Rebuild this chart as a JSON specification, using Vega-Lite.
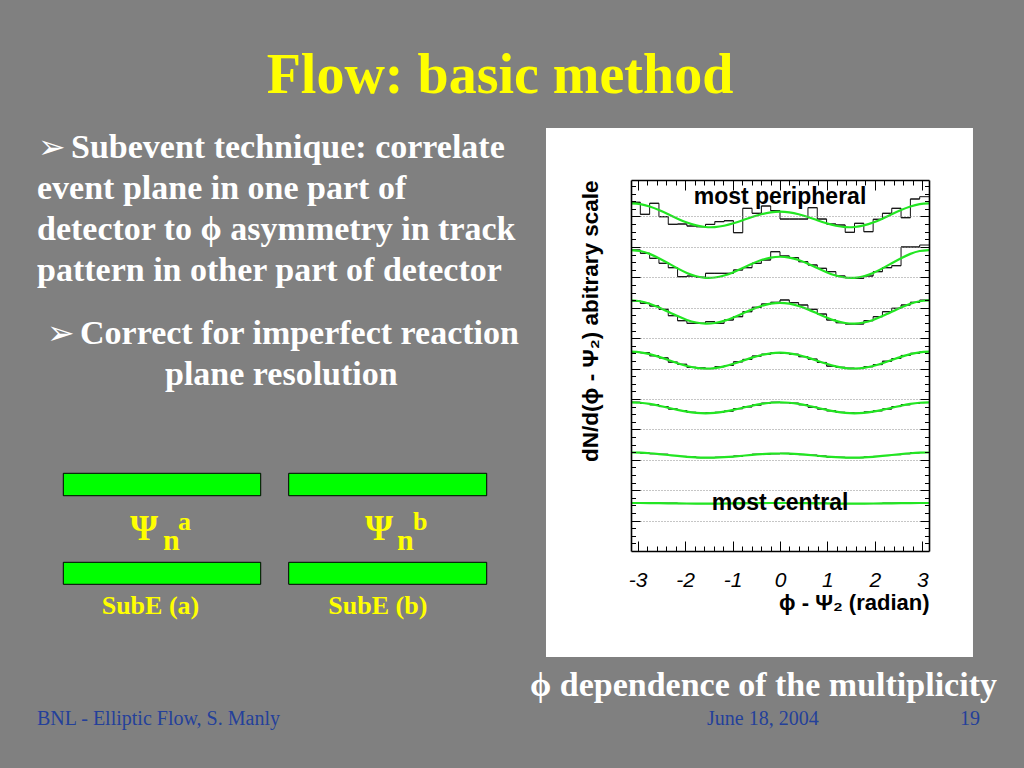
{
  "$schema": "https://vega.github.io/schema/vega-lite/v6.json",
  "width": 298,
  "height": 371,
  "autosize": {"type": "none"},
  "padding": {"left": 631, "top": 180, "right": 95, "bottom": 217},
  "background": "#808080",
  "config": {"view": {"stroke": null}},
  "datasets": {
    "panel": [{"x": -4.934, "x2": 4.069, "y": -3.486, "y2": 13.91}],
    "boxes": [
      {"x": -15.111, "x2": -10.949, "y": 2.555, "y2": 1.818},
      {"x": -10.359, "x2": -6.184, "y": 2.555, "y2": 1.818},
      {"x": -15.111, "x2": -10.949, "y": -0.372, "y2": -1.095},
      {"x": -10.359, "x2": -6.184, "y": -0.372, "y2": -1.095}
    ],
    "hist": [
      {"lo": -3.14159, "hi": -2.94524, "h1": 11.467, "h2": 9.898, "h3": 8.221, "h4": 6.53, "h5": 4.89, "h6": 3.24, "h7": 1.58},
      {"lo": -2.94524, "hi": -2.74889, "h1": 11.072, "h2": 9.79, "h3": 8.145, "h4": 6.52, "h5": 4.85, "h6": 3.22, "h7": 1.58},
      {"lo": -2.74889, "hi": -2.55254, "h1": 11.434, "h2": 9.625, "h3": 8.057, "h4": 6.42, "h5": 4.81, "h6": 3.2, "h7": 1.57},
      {"lo": -2.55254, "hi": -2.35619, "h1": 10.993, "h2": 9.461, "h3": 7.948, "h4": 6.35, "h5": 4.75, "h6": 3.18, "h7": 1.57},
      {"lo": -2.35619, "hi": -2.15984, "h1": 10.743, "h2": 9.316, "h3": 7.738, "h4": 6.21, "h5": 4.67, "h6": 3.14, "h7": 1.57},
      {"lo": -2.15984, "hi": -1.9635, "h1": 10.753, "h2": 9.02, "h3": 7.573, "h4": 6.14, "h5": 4.62, "h6": 3.11, "h7": 1.56},
      {"lo": -1.9635, "hi": -1.76715, "h1": 10.687, "h2": 9.043, "h3": 7.488, "h4": 6.04, "h5": 4.56, "h6": 3.09, "h7": 1.56},
      {"lo": -1.76715, "hi": -1.5708, "h1": 10.664, "h2": 9.0, "h3": 7.488, "h4": 6.02, "h5": 4.53, "h6": 3.07, "h7": 1.56},
      {"lo": -1.5708, "hi": -1.37445, "h1": 10.74, "h2": 9.132, "h3": 7.54, "h4": 6.0, "h5": 4.54, "h6": 3.07, "h7": 1.56},
      {"lo": -1.37445, "hi": -1.1781, "h1": 10.83, "h2": 9.132, "h3": 7.488, "h4": 6.06, "h5": 4.56, "h6": 3.08, "h7": 1.56},
      {"lo": -1.1781, "hi": -0.98175, "h1": 10.86, "h2": 9.132, "h3": 7.596, "h4": 6.1, "h5": 4.6, "h6": 3.1, "h7": 1.56},
      {"lo": -0.98175, "hi": -0.7854, "h1": 10.467, "h2": 9.24, "h3": 7.705, "h4": 6.22, "h5": 4.68, "h6": 3.12, "h7": 1.57},
      {"lo": -0.7854, "hi": -0.58905, "h1": 11.269, "h2": 9.316, "h3": 7.869, "h4": 6.3, "h5": 4.74, "h6": 3.14, "h7": 1.57},
      {"lo": -0.58905, "hi": -0.3927, "h1": 11.105, "h2": 9.461, "h3": 8.014, "h4": 6.41, "h5": 4.8, "h6": 3.18, "h7": 1.57},
      {"lo": -0.3927, "hi": -0.19635, "h1": 11.345, "h2": 9.569, "h3": 8.122, "h4": 6.47, "h5": 4.86, "h6": 3.19, "h7": 1.58},
      {"lo": -0.19635, "hi": 0, "h1": 11.19, "h2": 9.842, "h3": 8.178, "h4": 6.52, "h5": 4.89, "h6": 3.2, "h7": 1.58},
      {"lo": 0, "hi": 0.19635, "h1": 10.917, "h2": 9.701, "h3": 8.254, "h4": 6.5, "h5": 4.88, "h6": 3.21, "h7": 1.58},
      {"lo": 0.19635, "hi": 0.3927, "h1": 10.917, "h2": 9.645, "h3": 8.165, "h4": 6.47, "h5": 4.86, "h6": 3.19, "h7": 1.58},
      {"lo": 0.3927, "hi": 0.58905, "h1": 10.917, "h2": 9.513, "h3": 8.089, "h4": 6.39, "h5": 4.81, "h6": 3.17, "h7": 1.57},
      {"lo": 0.58905, "hi": 0.7854, "h1": 11.289, "h2": 9.405, "h3": 7.948, "h4": 6.31, "h5": 4.73, "h6": 3.15, "h7": 1.57},
      {"lo": 0.7854, "hi": 0.98175, "h1": 10.917, "h2": 9.296, "h3": 7.793, "h4": 6.2, "h5": 4.67, "h6": 3.12, "h7": 1.57},
      {"lo": 0.98175, "hi": 1.1781, "h1": 10.753, "h2": 9.185, "h3": 7.596, "h4": 6.08, "h5": 4.61, "h6": 3.09, "h7": 1.56},
      {"lo": 1.1781, "hi": 1.37445, "h1": 10.72, "h2": 9.043, "h3": 7.507, "h4": 6.04, "h5": 4.56, "h6": 3.08, "h7": 1.56},
      {"lo": 1.37445, "hi": 1.5708, "h1": 10.48, "h2": 8.987, "h3": 7.465, "h4": 6.01, "h5": 4.54, "h6": 3.07, "h7": 1.56},
      {"lo": 1.5708, "hi": 1.76715, "h1": 10.776, "h2": 8.967, "h3": 7.465, "h4": 6.0, "h5": 4.53, "h6": 3.07, "h7": 1.56},
      {"lo": 1.76715, "hi": 1.9635, "h1": 10.5, "h2": 9.043, "h3": 7.573, "h4": 6.06, "h5": 4.57, "h6": 3.09, "h7": 1.56},
      {"lo": 1.9635, "hi": 2.15984, "h1": 10.908, "h2": 9.185, "h3": 7.705, "h4": 6.13, "h5": 4.61, "h6": 3.11, "h7": 1.56},
      {"lo": 2.15984, "hi": 2.35619, "h1": 11.105, "h2": 9.316, "h3": 7.869, "h4": 6.24, "h5": 4.67, "h6": 3.14, "h7": 1.57},
      {"lo": 2.35619, "hi": 2.55254, "h1": 11.269, "h2": 9.382, "h3": 7.981, "h4": 6.33, "h5": 4.75, "h6": 3.17, "h7": 1.57},
      {"lo": 2.55254, "hi": 2.74889, "h1": 10.96, "h2": 9.997, "h3": 8.089, "h4": 6.43, "h5": 4.81, "h6": 3.2, "h7": 1.58},
      {"lo": 2.74889, "hi": 2.94524, "h1": 11.575, "h2": 9.997, "h3": 8.178, "h4": 6.5, "h5": 4.85, "h6": 3.23, "h7": 1.58},
      {"lo": 2.94524, "hi": 3.14159, "h1": 11.651, "h2": 10.062, "h3": 8.254, "h4": 6.55, "h5": 4.88, "h6": 3.24, "h7": 1.58}
    ],
    "fits": [
      {"x": -3.14159, "f1": 11.434, "f2": 9.896, "f3": 8.241, "f4": 6.554, "f5": 4.89, "f6": 3.239, "f7": 1.579},
      {"x": -2.94524, "f1": 11.407, "f2": 9.864, "f3": 8.213, "f4": 6.533, "f5": 4.876, "f6": 3.233, "f7": 1.578},
      {"x": -2.74889, "f1": 11.329, "f2": 9.771, "f3": 8.132, "f4": 6.474, "f5": 4.837, "f6": 3.215, "f7": 1.576},
      {"x": -2.55254, "f1": 11.213, "f2": 9.63, "f3": 8.011, "f4": 6.385, "f5": 4.778, "f6": 3.188, "f7": 1.573},
      {"x": -2.35619, "f1": 11.073, "f2": 9.463, "f3": 7.868, "f4": 6.28, "f5": 4.709, "f6": 3.157, "f7": 1.569},
      {"x": -2.15984, "f1": 10.929, "f2": 9.293, "f3": 7.724, "f4": 6.174, "f5": 4.64, "f6": 3.125, "f7": 1.565},
      {"x": -1.9635, "f1": 10.801, "f2": 9.144, "f3": 7.599, "f4": 6.084, "f5": 4.581, "f6": 3.097, "f7": 1.562},
      {"x": -1.76715, "f1": 10.706, "f2": 9.036, "f3": 7.514, "f4": 6.022, "f5": 4.542, "f6": 3.077, "f7": 1.56},
      {"x": -1.5708, "f1": 10.654, "f2": 8.984, "f3": 7.478, "f4": 5.998, "f5": 4.528, "f6": 3.068, "f7": 1.559},
      {"x": -1.37445, "f1": 10.652, "f2": 8.993, "f3": 7.498, "f4": 6.016, "f5": 4.542, "f6": 3.07, "f7": 1.56},
      {"x": -1.1781, "f1": 10.696, "f2": 9.059, "f3": 7.569, "f4": 6.071, "f5": 4.581, "f6": 3.084, "f7": 1.562},
      {"x": -0.98175, "f1": 10.776, "f2": 9.17, "f3": 7.68, "f4": 6.156, "f5": 4.64, "f6": 3.106, "f7": 1.565},
      {"x": -0.7854, "f1": 10.877, "f2": 9.307, "f3": 7.812, "f4": 6.256, "f5": 4.709, "f6": 3.133, "f7": 1.569},
      {"x": -0.58905, "f1": 10.983, "f2": 9.447, "f3": 7.946, "f4": 6.358, "f5": 4.778, "f6": 3.161, "f7": 1.573},
      {"x": -0.3927, "f1": 11.074, "f2": 9.567, "f3": 8.059, "f4": 6.444, "f5": 4.837, "f6": 3.185, "f7": 1.576},
      {"x": -0.19635, "f1": 11.136, "f2": 9.648, "f3": 8.136, "f4": 6.501, "f5": 4.876, "f6": 3.2, "f7": 1.578},
      {"x": 0, "f1": 11.158, "f2": 9.676, "f3": 8.162, "f4": 6.521, "f5": 4.89, "f6": 3.206, "f7": 1.579},
      {"x": 0.19635, "f1": 11.136, "f2": 9.648, "f3": 8.136, "f4": 6.501, "f5": 4.876, "f6": 3.2, "f7": 1.578},
      {"x": 0.3927, "f1": 11.074, "f2": 9.567, "f3": 8.059, "f4": 6.444, "f5": 4.837, "f6": 3.185, "f7": 1.576},
      {"x": 0.58905, "f1": 10.983, "f2": 9.447, "f3": 7.946, "f4": 6.358, "f5": 4.778, "f6": 3.161, "f7": 1.573},
      {"x": 0.7854, "f1": 10.877, "f2": 9.307, "f3": 7.812, "f4": 6.256, "f5": 4.709, "f6": 3.133, "f7": 1.569},
      {"x": 0.98175, "f1": 10.776, "f2": 9.17, "f3": 7.68, "f4": 6.156, "f5": 4.64, "f6": 3.106, "f7": 1.565},
      {"x": 1.1781, "f1": 10.696, "f2": 9.059, "f3": 7.569, "f4": 6.071, "f5": 4.581, "f6": 3.084, "f7": 1.562},
      {"x": 1.37445, "f1": 10.652, "f2": 8.993, "f3": 7.498, "f4": 6.016, "f5": 4.542, "f6": 3.07, "f7": 1.56},
      {"x": 1.5708, "f1": 10.654, "f2": 8.984, "f3": 7.478, "f4": 5.998, "f5": 4.528, "f6": 3.068, "f7": 1.559},
      {"x": 1.76715, "f1": 10.706, "f2": 9.036, "f3": 7.514, "f4": 6.022, "f5": 4.542, "f6": 3.077, "f7": 1.56},
      {"x": 1.9635, "f1": 10.801, "f2": 9.144, "f3": 7.599, "f4": 6.084, "f5": 4.581, "f6": 3.097, "f7": 1.562},
      {"x": 2.15984, "f1": 10.929, "f2": 9.293, "f3": 7.724, "f4": 6.174, "f5": 4.64, "f6": 3.125, "f7": 1.565},
      {"x": 2.35619, "f1": 11.073, "f2": 9.463, "f3": 7.868, "f4": 6.28, "f5": 4.709, "f6": 3.157, "f7": 1.569},
      {"x": 2.55254, "f1": 11.213, "f2": 9.63, "f3": 8.011, "f4": 6.385, "f5": 4.778, "f6": 3.188, "f7": 1.573},
      {"x": 2.74889, "f1": 11.329, "f2": 9.771, "f3": 8.132, "f4": 6.474, "f5": 4.837, "f6": 3.215, "f7": 1.576},
      {"x": 2.94524, "f1": 11.407, "f2": 9.864, "f3": 8.213, "f4": 6.533, "f5": 4.876, "f6": 3.233, "f7": 1.578},
      {"x": 3.14159, "f1": 11.434, "f2": 9.896, "f3": 8.241, "f4": 6.554, "f5": 4.89, "f6": 3.239, "f7": 1.579}
    ],
    "notes": [
      {"label": "most peripheral", "x": 0, "y": 11.4},
      {"label": "most central", "x": 0, "y": 1.348}
    ],
    "slide": [
      {"role": "title", "text": "Flow: basic method", "x": -5.904, "y": 15.061},
      {"role": "arrow", "text": "➢", "x": -15.645, "y": 12.923},
      {"role": "arrow", "text": "➢", "x": -15.455, "y": 6.807},
      {"role": "bullet", "text": "Subevent technique: correlate", "x": -14.949, "y": 12.923},
      {"role": "bullet", "text": "event plane in one part of", "x": -15.666, "y": 11.575},
      {"role": "bullet", "text": "detector to ϕ asymmetry in track", "x": -15.666, "y": 10.227},
      {"role": "bullet", "text": "pattern in other part of detector", "x": -15.666, "y": 8.879},
      {"role": "bullet", "text": "Correct for imperfect reaction", "x": -14.759, "y": 6.807},
      {"role": "bullet", "text": "plane resolution", "x": -12.967, "y": 5.459},
      {"role": "bullet", "text": "ϕ dependence of the multiplicity", "x": -5.271, "y": -4.768},
      {"role": "psi", "text": "Ψ", "x": -13.705, "y": 0.362},
      {"role": "psi", "text": "Ψ", "x": -8.75, "y": 0.362},
      {"role": "sub", "text": "n", "x": -13.009, "y": 0.033},
      {"role": "sub", "text": "n", "x": -8.075, "y": 0.033},
      {"role": "small", "text": "a", "x": -12.693, "y": 0.691},
      {"role": "small", "text": "b", "x": -7.738, "y": 0.691},
      {"role": "small", "text": "SubE (a)", "x": -14.302, "y": -2.072},
      {"role": "small", "text": "SubE (b)", "x": -9.524, "y": -2.072},
      {"role": "footer", "text": "BNL - Elliptic Flow,  S. Manly", "x": -15.666, "y": -5.722},
      {"role": "footer", "text": "June 18, 2004", "x": -1.539, "y": -5.722},
      {"role": "footer", "text": "19", "x": 3.795, "y": -5.722}
    ]
  },
  "layer": [
    {
      "data": {"name": "panel"},
      "mark": {"type": "rect", "fill": "#ffffff"},
      "encoding": {
        "x": {"field": "x", "type": "quantitative", "scale": {"domain": [-3.14159, 3.14159], "nice": false, "zero": false}, "axis": null},
        "x2": {"field": "x2"},
        "y": {"field": "y", "type": "quantitative", "scale": {"domain": [0, 12.2], "nice": false, "zero": false}, "axis": null},
        "y2": {"field": "y2"}
      }
    },
    {
      "data": {"name": "boxes"},
      "mark": {"type": "rect", "fill": "#00ff00", "stroke": "#000000", "strokeWidth": 1},
      "encoding": {
        "x": {"field": "x", "type": "quantitative", "scale": {"domain": [-3.14159, 3.14159], "nice": false, "zero": false}, "axis": null},
        "x2": {"field": "x2"},
        "y": {"field": "y", "type": "quantitative", "scale": {"domain": [0, 12.2], "nice": false, "zero": false}, "axis": null},
        "y2": {"field": "y2"}
      }
    },
    {
      "data": {"name": "hist"},
      "transform": [{"fold": ["h1", "h2", "h3", "h4", "h5", "h6", "h7"], "as": ["series", "y"]}],
      "mark": {"type": "rule", "color": "#111111", "strokeWidth": 1},
      "encoding": {
        "x": {"field": "lo", "type": "quantitative", "scale": {"domain": [-3.14159, 3.14159], "nice": false, "zero": false},
          "axis": {"orient": "bottom", "values": [-3, -2, -1, 0, 1, 2, 3], "tickSize": -10, "tickColor": "#000000", "tickWidth": 1,
            "domain": true, "domainColor": "#000000", "domainWidth": 1.6, "grid": false,
            "labelExpr": "replace(datum.label, '\u2212', '-')",
            "labelFont": "Liberation Sans", "labelFontStyle": "italic", "labelFontSize": 21, "labelColor": "#000000", "labelPadding": 28, "labelFlush": false, "labelOverlap": false, "labelAngle": 0,
            "title": "ϕ - Ψ₂ (radian)", "titleFont": "Liberation Sans", "titleFontSize": 22, "titleFontWeight": "bold", "titleColor": "#000000", "titleAnchor": "end", "titlePadding": 2, "minExtent": 0, "zindex": 1}},
        "x2": {"field": "hi"},
        "y": {"field": "y", "type": "quantitative", "scale": {"domain": [0, 12.2], "nice": false, "zero": false},
          "axis": {"orient": "left", "values": [1, 2, 3, 4, 5, 6, 7, 8, 9, 10, 11], "tickSize": -9, "tickColor": "#000000", "tickWidth": 1,
            "domain": true, "domainColor": "#000000", "domainWidth": 1.6,
            "grid": true, "gridColor": "#8c8c8c", "gridDash": [1, 2], "gridWidth": 1,
            "labels": false,
            "title": "dN/d(ϕ - Ψ₂) abitrary scale", "titleFont": "Liberation Sans", "titleFontSize": 22.5, "titleFontWeight": "bold", "titleColor": "#000000", "titleAnchor": "end", "titlePadding": 28, "minExtent": 0, "zindex": 1}}
      }
    },
    {
      "data": {"name": "hist"},
      "transform": [{"fold": ["h1", "h2", "h3", "h4", "h5", "h6", "h7"], "as": ["series", "y"]}],
      "mark": {"type": "line", "interpolate": "step-after", "color": "#111111", "strokeWidth": 1},
      "encoding": {
        "x": {"field": "lo", "type": "quantitative", "scale": {"domain": [-3.14159, 3.14159], "nice": false, "zero": false},
          "axis": {"orient": "bottom", "values": [-3, -2.8, -2.6, -2.4, -2.2, -2, -1.8, -1.6, -1.4, -1.2, -1, -0.8, -0.6, -0.4, -0.2, 0, 0.2, 0.4, 0.6, 0.8, 1, 1.2, 1.4, 1.6, 1.8, 2, 2.2, 2.4, 2.6, 2.8, 3],
            "tickSize": -5, "tickColor": "#000000", "tickWidth": 1, "labels": false, "domain": false, "grid": false, "title": null, "zindex": 1}},
        "y": {"field": "y", "type": "quantitative", "scale": {"domain": [0, 12.2], "nice": false, "zero": false},
          "axis": {"orient": "left", "values": [0.25, 0.5, 0.75, 1, 1.25, 1.5, 1.75, 2, 2.25, 2.5, 2.75, 3, 3.25, 3.5, 3.75, 4, 4.25, 4.5, 4.75, 5, 5.25, 5.5, 5.75, 6, 6.25, 6.5, 6.75, 7, 7.25, 7.5, 7.75, 8, 8.25, 8.5, 8.75, 9, 9.25, 9.5, 9.75, 10, 10.25, 10.5, 10.75, 11, 11.25, 11.5, 11.75, 12],
            "tickSize": -4.5, "tickColor": "#000000", "tickWidth": 1, "labels": false, "domain": false, "grid": false, "title": null, "zindex": 1}},
        "detail": {"field": "series"}
      }
    },
    {
      "data": {"name": "fits"},
      "transform": [{"fold": ["f1", "f2", "f3", "f4", "f5", "f6", "f7"], "as": ["series", "y"]}],
      "mark": {"type": "line", "interpolate": "natural", "color": "#22e622", "strokeWidth": 2.2},
      "encoding": {
        "x": {"field": "x", "type": "quantitative", "scale": {"domain": [-3.14159, 3.14159], "nice": false, "zero": false},
          "axis": {"orient": "top", "values": [-3, -2, -1, 0, 1, 2, 3], "tickSize": -10, "tickColor": "#000000", "tickWidth": 1,
            "labels": false, "domain": true, "domainColor": "#000000", "domainWidth": 1.6, "grid": false, "title": null, "zindex": 1}},
        "y": {"field": "y", "type": "quantitative", "scale": {"domain": [0, 12.2], "nice": false, "zero": false},
          "axis": {"orient": "right", "values": [1, 2, 3, 4, 5, 6, 7, 8, 9, 10, 11], "tickSize": -9, "tickColor": "#000000", "tickWidth": 1,
            "labels": false, "domain": true, "domainColor": "#000000", "domainWidth": 1.6, "grid": false, "title": null, "zindex": 1}},
        "detail": {"field": "series"}
      }
    },
    {
      "data": {"name": "notes"},
      "mark": {"type": "text", "font": "Liberation Sans", "fontSize": 23, "fontWeight": "bold", "color": "#000000", "align": "center", "baseline": "alphabetic"},
      "encoding": {
        "x": {"field": "x", "type": "quantitative", "scale": {"domain": [-3.14159, 3.14159], "nice": false, "zero": false},
          "axis": {"orient": "top", "values": [-3, -2.8, -2.6, -2.4, -2.2, -2, -1.8, -1.6, -1.4, -1.2, -1, -0.8, -0.6, -0.4, -0.2, 0, 0.2, 0.4, 0.6, 0.8, 1, 1.2, 1.4, 1.6, 1.8, 2, 2.2, 2.4, 2.6, 2.8, 3],
            "tickSize": -5, "tickColor": "#000000", "tickWidth": 1, "labels": false, "domain": false, "grid": false, "title": null, "zindex": 1}},
        "y": {"field": "y", "type": "quantitative", "scale": {"domain": [0, 12.2], "nice": false, "zero": false},
          "axis": {"orient": "right", "values": [0.25, 0.5, 0.75, 1, 1.25, 1.5, 1.75, 2, 2.25, 2.5, 2.75, 3, 3.25, 3.5, 3.75, 4, 4.25, 4.5, 4.75, 5, 5.25, 5.5, 5.75, 6, 6.25, 6.5, 6.75, 7, 7.25, 7.5, 7.75, 8, 8.25, 8.5, 8.75, 9, 9.25, 9.5, 9.75, 10, 10.25, 10.5, 10.75, 11, 11.25, 11.5, 11.75, 12],
            "tickSize": -4.5, "tickColor": "#000000", "tickWidth": 1, "labels": false, "domain": false, "grid": false, "title": null, "zindex": 1}},
        "text": {"field": "label"}
      }
    },
    {
      "data": {"name": "slide"},
      "transform": [{"filter": "datum.role === 'title'"}],
      "mark": {"type": "text", "font": "Liberation Serif", "fontSize": 56, "fontWeight": "bold", "color": "#ffff00", "align": "center", "baseline": "alphabetic"},
      "encoding": {
        "x": {"field": "x", "type": "quantitative", "scale": {"domain": [-3.14159, 3.14159], "nice": false, "zero": false}, "axis": null},
        "y": {"field": "y", "type": "quantitative", "scale": {"domain": [0, 12.2], "nice": false, "zero": false}, "axis": null},
        "text": {"field": "text"}
      }
    },
    {
      "data": {"name": "slide"},
      "transform": [{"filter": "datum.role === 'arrow'"}],
      "mark": {"type": "text", "font": "DejaVu Sans", "fontSize": 33, "color": "#ffffff", "align": "left", "baseline": "alphabetic"},
      "encoding": {
        "x": {"field": "x", "type": "quantitative", "scale": {"domain": [-3.14159, 3.14159], "nice": false, "zero": false}, "axis": null},
        "y": {"field": "y", "type": "quantitative", "scale": {"domain": [0, 12.2], "nice": false, "zero": false}, "axis": null},
        "text": {"field": "text"}
      }
    },
    {
      "data": {"name": "slide"},
      "transform": [{"filter": "datum.role === 'bullet'"}],
      "mark": {"type": "text", "font": "Liberation Serif", "fontSize": 34, "fontWeight": "bold", "color": "#ffffff", "align": "left", "baseline": "alphabetic"},
      "encoding": {
        "x": {"field": "x", "type": "quantitative", "scale": {"domain": [-3.14159, 3.14159], "nice": false, "zero": false}, "axis": null},
        "y": {"field": "y", "type": "quantitative", "scale": {"domain": [0, 12.2], "nice": false, "zero": false}, "axis": null},
        "text": {"field": "text"}
      }
    },
    {
      "data": {"name": "slide"},
      "transform": [{"filter": "datum.role === 'psi'"}],
      "mark": {"type": "text", "font": "Liberation Serif", "fontSize": 36, "fontWeight": "bold", "color": "#ffff00", "align": "left", "baseline": "alphabetic"},
      "encoding": {
        "x": {"field": "x", "type": "quantitative", "scale": {"domain": [-3.14159, 3.14159], "nice": false, "zero": false}, "axis": null},
        "y": {"field": "y", "type": "quantitative", "scale": {"domain": [0, 12.2], "nice": false, "zero": false}, "axis": null},
        "text": {"field": "text"}
      }
    },
    {
      "data": {"name": "slide"},
      "transform": [{"filter": "datum.role === 'sub'"}],
      "mark": {"type": "text", "font": "Liberation Serif", "fontSize": 30, "fontWeight": "bold", "color": "#ffff00", "align": "left", "baseline": "alphabetic"},
      "encoding": {
        "x": {"field": "x", "type": "quantitative", "scale": {"domain": [-3.14159, 3.14159], "nice": false, "zero": false}, "axis": null},
        "y": {"field": "y", "type": "quantitative", "scale": {"domain": [0, 12.2], "nice": false, "zero": false}, "axis": null},
        "text": {"field": "text"}
      }
    },
    {
      "data": {"name": "slide"},
      "transform": [{"filter": "datum.role === 'small'"}],
      "mark": {"type": "text", "font": "Liberation Serif", "fontSize": 26, "fontWeight": "bold", "color": "#ffff00", "align": "left", "baseline": "alphabetic"},
      "encoding": {
        "x": {"field": "x", "type": "quantitative", "scale": {"domain": [-3.14159, 3.14159], "nice": false, "zero": false}, "axis": null},
        "y": {"field": "y", "type": "quantitative", "scale": {"domain": [0, 12.2], "nice": false, "zero": false}, "axis": null},
        "text": {"field": "text"}
      }
    },
    {
      "data": {"name": "slide"},
      "transform": [{"filter": "datum.role === 'footer'"}],
      "mark": {"type": "text", "font": "Liberation Serif", "fontSize": 20, "color": "#24409a", "align": "left", "baseline": "alphabetic"},
      "encoding": {
        "x": {"field": "x", "type": "quantitative", "scale": {"domain": [-3.14159, 3.14159], "nice": false, "zero": false}, "axis": null},
        "y": {"field": "y", "type": "quantitative", "scale": {"domain": [0, 12.2], "nice": false, "zero": false}, "axis": null},
        "text": {"field": "text"}
      }
    }
  ],
  "resolve": {"axis": {"x": "independent", "y": "independent"}}
}
